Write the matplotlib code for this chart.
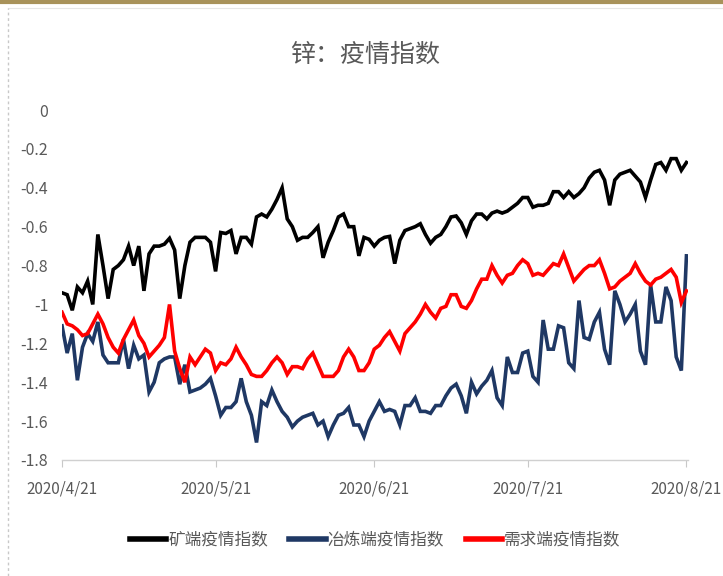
import matplotlib
matplotlib.use("Agg")
import matplotlib.pyplot as plt
import matplotlib.dates as mdates
from matplotlib.lines import Line2D
import pandas as pd

plt.rcParams["font.family"] = ["Noto Sans CJK SC", "DejaVu Sans"]

# daily values, 2020/4/21 .. 2020/8/21
dates = pd.date_range("2020-04-21", "2020-08-21", freq="D")

mine = [
    -0.94, -0.95, -1.03, -0.91, -0.94, -0.88, -1.00, -0.64, -0.80, -0.97,
    -0.82, -0.80, -0.77, -0.70, -0.80, -0.70, -0.93, -0.74, -0.70, -0.70,
    -0.69, -0.66, -0.72, -0.97, -0.80, -0.68, -0.655, -0.655, -0.655, -0.68,
    -0.83, -0.63, -0.635, -0.62, -0.74, -0.655, -0.655, -0.69, -0.55, -0.535,
    -0.55, -0.51, -0.46, -0.40, -0.56, -0.60, -0.67, -0.655, -0.655, -0.63,
    -0.60, -0.76, -0.68, -0.62, -0.55, -0.535, -0.60, -0.60, -0.75, -0.655,
    -0.665, -0.70, -0.67, -0.655, -0.65, -0.79, -0.67, -0.62, -0.61, -0.60,
    -0.585, -0.64, -0.685, -0.655, -0.64, -0.60, -0.55, -0.545, -0.58, -0.64,
    -0.57, -0.535, -0.535, -0.56, -0.53, -0.52, -0.53, -0.52, -0.50, -0.48,
    -0.45, -0.45, -0.50, -0.49, -0.49, -0.48, -0.42, -0.42, -0.45, -0.42,
    -0.45, -0.43, -0.40, -0.35, -0.32, -0.31, -0.36, -0.49, -0.36, -0.33,
    -0.32, -0.31, -0.34, -0.37, -0.45, -0.36, -0.28, -0.27, -0.31, -0.25,
    -0.25, -0.31, -0.27,
]

smelt = [
    -1.11, -1.25, -1.15, -1.39, -1.22, -1.15, -1.19, -1.09, -1.26, -1.30,
    -1.30, -1.30, -1.18, -1.33, -1.21, -1.28, -1.26, -1.45, -1.40, -1.30,
    -1.28, -1.27, -1.27, -1.41, -1.31, -1.45, -1.44, -1.43, -1.41, -1.38,
    -1.47, -1.57, -1.53, -1.53, -1.50, -1.38, -1.50, -1.57, -1.71, -1.50,
    -1.52, -1.44, -1.50, -1.55, -1.58, -1.63, -1.60, -1.58, -1.57, -1.56,
    -1.62, -1.60, -1.68, -1.62, -1.57, -1.56, -1.53, -1.62, -1.62, -1.68,
    -1.60, -1.55, -1.50, -1.55, -1.54, -1.55, -1.62, -1.52, -1.52, -1.48,
    -1.55, -1.55, -1.56, -1.52, -1.52, -1.47, -1.43, -1.41, -1.47, -1.56,
    -1.40, -1.46, -1.42, -1.39, -1.34, -1.48, -1.52, -1.27, -1.35, -1.35,
    -1.25, -1.24, -1.37, -1.40, -1.08, -1.23, -1.23, -1.11, -1.12, -1.30,
    -1.33, -0.98, -1.17, -1.18, -1.09, -1.04, -1.23, -1.31, -0.93, -1.00,
    -1.09, -1.05, -1.00, -1.24, -1.31, -0.90, -1.09, -1.09, -0.91, -0.98,
    -1.27, -1.34, -0.75,
]

demand = [
    -1.04, -1.10, -1.11, -1.13, -1.16, -1.15, -1.10, -1.05, -1.10, -1.17,
    -1.22, -1.25, -1.18, -1.13, -1.08, -1.16, -1.20, -1.27, -1.24, -1.21,
    -1.17, -1.00, -1.24, -1.33, -1.40, -1.27, -1.31, -1.27, -1.23, -1.25,
    -1.34, -1.30, -1.31, -1.28, -1.22, -1.27, -1.31, -1.36, -1.37, -1.37,
    -1.34, -1.30, -1.27, -1.30, -1.36, -1.32, -1.32, -1.33, -1.28, -1.25,
    -1.31, -1.37, -1.37, -1.37, -1.34, -1.27, -1.23, -1.27, -1.34, -1.34,
    -1.30, -1.23, -1.21, -1.17, -1.14, -1.19, -1.24, -1.15, -1.12, -1.09,
    -1.05, -1.00, -1.04, -1.07, -1.02, -1.01, -0.95, -0.95, -1.01, -1.02,
    -0.98, -0.92, -0.87, -0.87, -0.80, -0.85, -0.89, -0.85, -0.84, -0.80,
    -0.77, -0.79, -0.85, -0.84, -0.85, -0.82, -0.79, -0.80, -0.74, -0.81,
    -0.88, -0.85, -0.82, -0.80, -0.80, -0.77, -0.84, -0.92, -0.91, -0.88,
    -0.86, -0.84, -0.79, -0.84, -0.88, -0.90, -0.87, -0.86, -0.84, -0.82,
    -0.86, -0.99, -0.93,
]

labels = ["矿端疫情指数", "冶炼端疫情指数", "需求端疫情指数"]
colors = ["#000000", "#1F3864", "#FF0000"]
tick_dates = ["2020-04-21", "2020-05-21", "2020-06-21", "2020-07-21", "2020-08-21"]
yticks = [0, -0.2, -0.4, -0.6, -0.8, -1, -1.2, -1.4, -1.6, -1.8]

fig = plt.figure(figsize=(7.23, 5.76), dpi=100)
ax = fig.add_axes([0.0858, 0.2014, 0.866, 0.6076])

for series, lab, col in zip([mine, smelt, demand], labels, colors):
    ax.plot(dates, series, color=col, lw=2.6, label=lab, solid_joinstyle="miter")

ax.set_ylim(-1.8, 0)
ax.set_xlim(pd.Timestamp("2020-04-21"), pd.Timestamp("2020-08-21 08:00"))
ax.set_yticks(yticks)
ax.set_yticklabels(["0" if v == 0 else ("%g" % v) for v in yticks])
ax.set_xticks(pd.to_datetime(tick_dates))
ax.xaxis.set_major_formatter(mdates.DateFormatter("%Y/%-m/%d"))

for s in ["top", "right", "left"]:
    ax.spines[s].set_visible(False)
ax.spines["bottom"].set_color("#D0D0D0")
ax.spines["bottom"].set_linewidth(1.0)
ax.spines["bottom"].set_linestyle((0, (1, 1)))
ax.tick_params(axis="y", length=0, pad=10, labelsize=11.5, labelcolor="#595959")
ax.tick_params(axis="x", length=5, color="#C8C8C8", pad=10, labelsize=11,
               labelcolor="#595959")

fig.text(0.505, 0.905, "锌：疫情指数", ha="center", va="center", fontsize=18,
         color="#595959")

ax.legend(loc="upper center", bbox_to_anchor=(0.5, -0.185), ncol=3, frameon=False,
          fontsize=12, handlelength=2.2, handletextpad=0.1, columnspacing=1.3,
          labelcolor="#595959", borderaxespad=0)
leg = ax.get_legend()
for h in leg.legend_handles:
    h.set_linewidth(4)

# page frame decorations
fig.add_artist(Line2D([0, 1], [0.996, 0.996], color="#A8925A", lw=3,
                      transform=fig.transFigure))
fig.add_artist(Line2D([0.011, 1], [0.986, 0.986], color="#E6E6E6", lw=0.8,
                      transform=fig.transFigure))
fig.add_artist(Line2D([0.011, 0.011], [0, 0.986], color="#C8C8C8", lw=1,
                      ls=(0, (2, 2)), transform=fig.transFigure))

fig.savefig("out.png", dpi=100)
